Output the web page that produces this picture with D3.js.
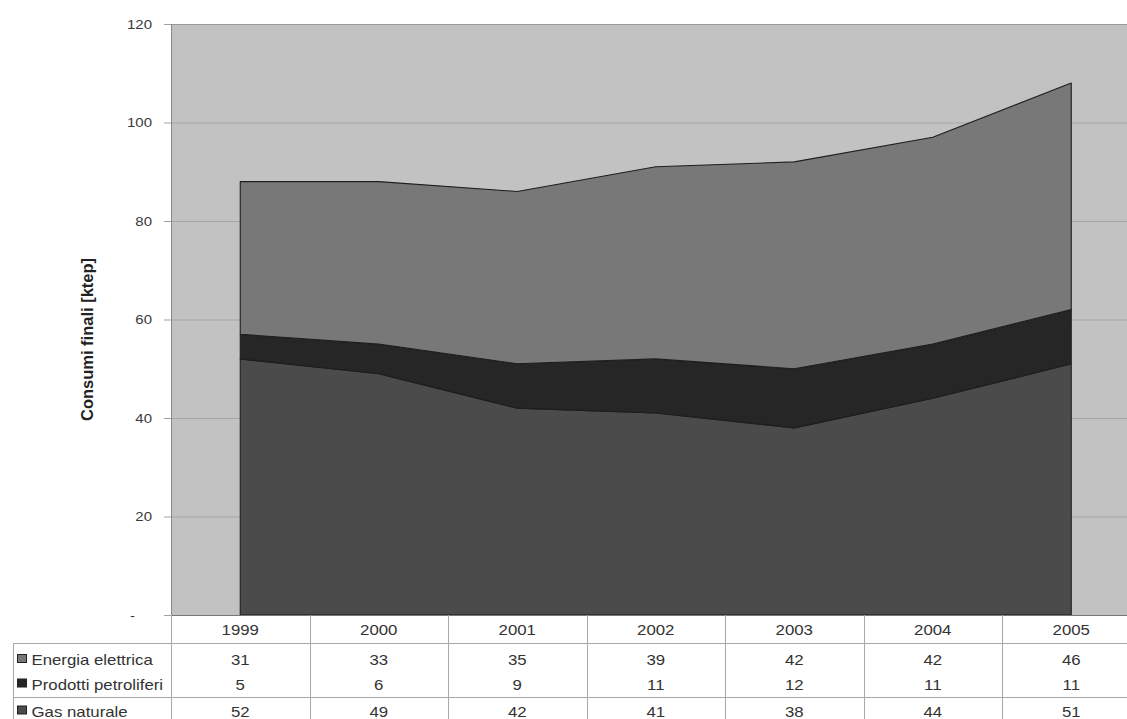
<!DOCTYPE html>
<html><head><meta charset="utf-8">
<script src="https://cdn.jsdelivr.net/npm/d3@7"></script>
<style>
html,body{margin:0;padding:0;background:#fff;}
svg{display:block;font-family:"Liberation Sans",Arial,sans-serif;}
</style></head>
<body>
<svg id="chart" width="1127" height="719"></svg>
<script>
const years = ["1999","2000","2001","2002","2003","2004","2005"];
const energiaElettrica = [31,33,35,39,42,42,46];
const prodottiPetroliferi = [5,6,9,11,12,11,11];
const gasNaturale = [52,49,42,41,38,44,51];
const yTicks = [0,20,40,60,80,100,120];
const seriesNames = ["Energia elettrica","Prodotti petroliferi","Gas naturale"];
const seriesColors = ["#787878","#262626","#4b4b4b"];
const yTitle = "Consumi finali [ktep]";

(function(){
const svg = d3.select("#chart");
const W = 1127, H = 719;
const plotLeft = 171, colW = 138.5, plotTop = 24, plotBottom = 615;
const sx = 1.2; // horizontal stretch of text in reference

const x = d3.scaleBand().domain(years).range([plotLeft, plotLeft + years.length*colW]);
const cx = d => x(d) + x.bandwidth()/2;
const y = d3.scaleLinear().domain([0,120]).range([plotBottom, plotTop]);

const rows = years.map((yr,i)=>({year:yr, gas:gasNaturale[i], prod:prodottiPetroliferi[i], ene:energiaElettrica[i]}));
const stack = d3.stack().keys(["gas","prod","ene"])(rows);
const keyColor = {gas:seriesColors[2], prod:seriesColors[1], ene:seriesColors[0]};

// plot background
svg.append("rect").attr("x", plotLeft).attr("y", y(120)).attr("width", W - plotLeft + 20).attr("height", y(0)-y(120))
  .attr("fill","#c2c2c2");

// gridlines
svg.append("g").selectAll("line").data(yTicks.filter(t=>t>0 && t<120)).join("line")
  .attr("x1", plotLeft).attr("x2", W).attr("y1", d=>y(d)+0.5).attr("y2", d=>y(d)+0.5)
  .attr("stroke","#a6a6a6").attr("stroke-width",1);

// plot border top/left
svg.append("line").attr("x1",plotLeft).attr("x2",W).attr("y1",y(120)+0.5).attr("y2",y(120)+0.5).attr("stroke","#9a9a9a");
svg.append("line").attr("x1",plotLeft+0.5).attr("x2",plotLeft+0.5).attr("y1",y(120)).attr("y2",y(0)).attr("stroke","#8a8a8a");

// areas
const area = d3.area().x(d=>cx(d.data.year)).y0(d=>y(d[0])).y1(d=>y(d[1]));
svg.append("g").selectAll("path").data(stack).join("path")
  .attr("d", area).attr("fill", d=>keyColor[d.key]).attr("stroke","#1e1e1e").attr("stroke-width",1.1)
  .attr("stroke-linejoin","round");

// y ticks
const yAxisG = svg.append("g");
yAxisG.selectAll("line").data(yTicks).join("line")
  .attr("x1", plotLeft-7).attr("x2", plotLeft).attr("y1", d=>y(d)+0.5).attr("y2", d=>y(d)+0.5)
  .attr("stroke","#a0a0a0");
function stext(parent, px, py, str, anchor, size, fill, weight){
  const g = parent.append("g").attr("transform", `translate(${px},${py}) scale(${sx},1)`);
  g.append("text").attr("text-anchor", anchor).attr("font-size", size).attr("fill", fill||"#222")
    .attr("font-weight", weight||"normal").text(str);
  return g;
}
yTicks.forEach(t=>{
  const lbl = t===0 ? "-" : String(t);
  stext(yAxisG, t===0 ? plotLeft-36 : plotLeft-19, y(t)+4.5, lbl, "end", 12.5, "#3a3a3a");
});

// y title
svg.append("text").attr("transform", `translate(93,${(y(0)+y(120))/2 + 20}) scale(1.05,1) rotate(-90)`)
  .attr("text-anchor","middle").attr("font-size",16.5).attr("font-weight","bold").attr("fill","#222")
  .text(yTitle);

// table
const tbl = svg.append("g");
const hdrBottom = 643, midLine = 697, legLeft = 13;
const lineCol = "#a8a8a8";
tbl.append("line").attr("x1",plotLeft).attr("x2",W).attr("y1",plotBottom+0.5).attr("y2",plotBottom+0.5).attr("stroke","#777");
tbl.append("line").attr("x1",legLeft).attr("x2",W).attr("y1",hdrBottom+0.5).attr("y2",hdrBottom+0.5).attr("stroke",lineCol);
tbl.append("line").attr("x1",legLeft).attr("x2",W).attr("y1",midLine+0.5).attr("y2",midLine+0.5).attr("stroke",lineCol);
const bounds = years.map(d=>x(d)).concat([x(years[years.length-1])+x.bandwidth()]);
tbl.selectAll("line.v").data(bounds).join("line").attr("class","v")
  .attr("x1", d=>Math.round(d)+0.5).attr("x2", d=>Math.round(d)+0.5)
  .attr("y1", plotBottom).attr("y2", H).attr("stroke", lineCol);
tbl.append("line").attr("x1",legLeft+0.5).attr("x2",legLeft+0.5).attr("y1",hdrBottom).attr("y2",H).attr("stroke",lineCol);

years.forEach(yr=> stext(tbl, cx(yr), 634.5, yr, "middle", 14, "#333"));
const rowY = [665, 689.5, 716.5];
const rowVals = [energiaElettrica, prodottiPetroliferi, gasNaturale];
seriesNames.forEach((name,i)=>{
  tbl.append("rect").attr("x",17.5).attr("y",rowY[i]-10.5).attr("width",9).attr("height",8)
    .attr("fill",seriesColors[i]).attr("stroke","#222").attr("stroke-width",1);
  stext(tbl, 31.5, rowY[i], name, "start", 14, "#333");
  years.forEach((yr,j)=> stext(tbl, cx(yr), rowY[i], String(rowVals[i][j]), "middle", 14, "#333"));
});
})();
</script>
</body></html>
